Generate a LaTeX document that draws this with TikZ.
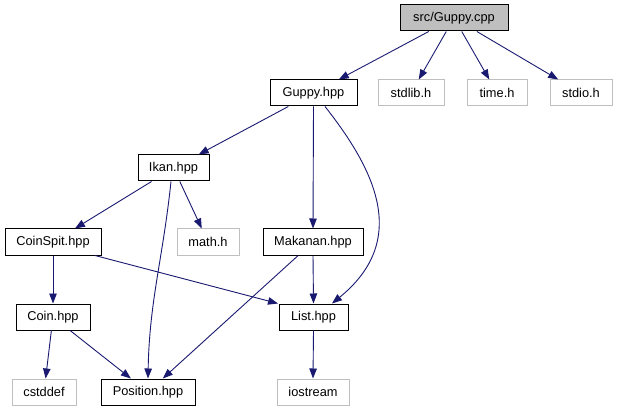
\documentclass[tikz,border=0pt]{standalone}
\usepackage{fontspec}
\setmainfont{Liberation Sans}
\usetikzlibrary{arrows.meta}
\definecolor{edgeblue}{HTML}{191970}
\definecolor{lgray}{HTML}{BFBFBF}
\tikzset{
  x=1pt,y=-1pt,
  base/.style={rectangle,minimum height=26pt,inner sep=0pt,font=\fontsize{12.8}{14}\selectfont},
  filebox/.style={base,draw=black,line width=1pt},
  sysbox/.style={base,draw=lgray,line width=1pt},
  rootbox/.style={base,draw=black,fill=lgray,line width=1pt},
  dep/.style={draw=edgeblue,line width=0.9pt,-{Triangle[length=10pt,width=7.5pt]}},
}
\begin{document}
\begin{tikzpicture}
\useasboundingbox (0,0) rectangle (617,411);
\node[rootbox,minimum width=108pt] (cpp) at (454,18) {src/Guppy.cpp};
\node[filebox,minimum width=87pt] (guppy) at (313.5,93) {Guppy.hpp};
\node[sysbox,minimum width=66pt] (stdlib) at (411,93) {stdlib.h};
\node[sysbox,minimum width=60pt] (time) at (497,93) {time.h};
\node[sysbox,minimum width=62pt] (stdio) at (581,93) {stdio.h};
\node[filebox,minimum width=71pt] (ikan) at (173.5,168) {Ikan.hpp};
\node[filebox,minimum width=96pt] (coinspit) at (53,242) {CoinSpit.hpp};
\node[sysbox,minimum width=62pt] (math) at (208,242) {math.h};
\node[filebox,minimum width=100pt] (makanan) at (313,242) {Makanan.hpp};
\node[filebox,minimum width=74pt] (coin) at (53,317) {Coin.hpp};
\node[filebox,minimum width=69pt] (list) at (313.5,317) {List.hpp};
\node[sysbox,minimum width=64pt] (cstddef) at (44,392) {cstddef};
\node[filebox,minimum width=94pt] (position) at (148,392) {Position.hpp};
\node[sysbox,minimum width=72pt] (iostream) at (313,392) {iostream};

\draw[dep] (cpp) -- (guppy);
\draw[dep] (cpp) -- (stdlib);
\draw[dep] (cpp) -- (time);
\draw[dep] (cpp) -- (stdio);
\draw[dep] (guppy) -- (ikan);
\draw[dep] (guppy.south) -- (makanan.north);
\draw[dep] ([xshift=11.5pt]guppy.south) .. controls (375,170) and (410,240) .. ([xshift=18.5pt]list.north);
\draw[dep] (ikan) -- (coinspit);
\draw[dep] (ikan) -- (math);
\draw[dep] ([xshift=-2.5pt]ikan.south) to[out=-96,in=89] (position.north);
\draw[dep] (coinspit.south) -- (coin.north);
\draw[dep] ([xshift=42pt]coinspit.south) -- ([xshift=-0.5pt]list.north west);
\draw[dep] (makanan.south) -- (list.north);
\draw[dep] (makanan) -- (position);
\draw[dep] (coin) -- (cstddef);
\draw[dep] (coin) -- (position);
\draw[dep] (list.south) -- (iostream.north);
\end{tikzpicture}
\end{document}
